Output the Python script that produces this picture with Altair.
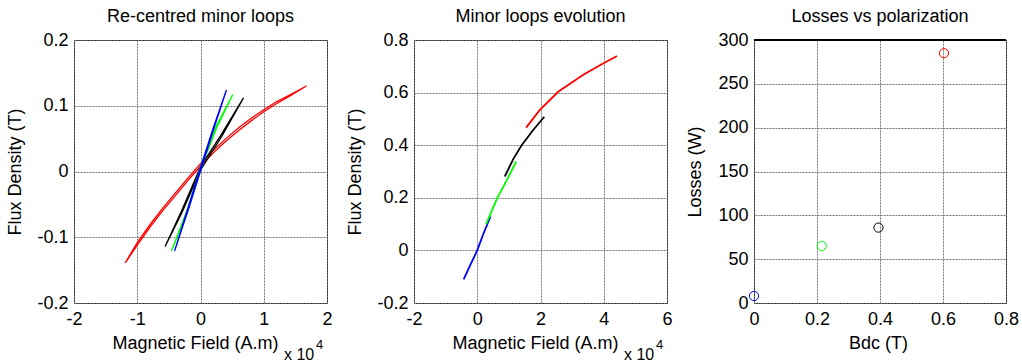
import altair as alt
import pandas as pd

FONT = "Liberation Sans"
curve_names = ["blue", "green", "black", "red"]
curve_colors = ["#0000ff", "#00ff00", "#000000", "#ff0000"]

# ---------- Panel 1: re-centred minor loops (H in x10^4 A/m, B in T) ----------
rc_blue_h = [-0.41, -0.2, 0.0, 0.2, 0.41]
rc_blue_rise = [-0.121, -0.060, 0.001, 0.062, 0.124]
rc_blue_fall = [-0.121, -0.056, 0.006, 0.066, 0.124]

rc_green_h = [-0.46, -0.2, 0.03, 0.25, 0.51]
rc_green_rise = [-0.121, -0.060, 0.011, 0.065, 0.117]
rc_green_fall = [-0.121, -0.056, 0.016, 0.069, 0.117]

rc_black_h = [-0.56, -0.3, 0.0, 0.34, 0.68]
rc_black_rise = [-0.114, -0.064, 0.002, 0.054, 0.112]
rc_black_fall = [-0.114, -0.060, 0.007, 0.058, 0.112]

rc_red_h = [-1.19, -1.0, -0.8, -0.6, -0.4, -0.2, 0.0, 0.2, 0.4, 0.6, 0.8, 1.0, 1.2, 1.4, 1.675]
rc_red_rise = [-0.139, -0.112, -0.085, -0.060, -0.037, -0.014, 0.008, 0.028, 0.046, 0.062, 0.077, 0.091, 0.103, 0.114, 0.130]
rc_red_fall = [-0.139, -0.108, -0.081, -0.056, -0.033, -0.010, 0.012, 0.032, 0.050, 0.066, 0.081, 0.094, 0.106, 0.116, 0.130]

# ---------- Panel 2: minor loops evolution ----------
ev_blue_h = [-0.43, -0.2, 0.0, 0.2, 0.42]
ev_blue_b = [-0.11, -0.05, 0.0, 0.065, 0.129]
ev_green_h = [0.28, 0.63, 0.95, 1.23]
ev_green_b = [0.10, 0.199, 0.27, 0.338]
ev_black_h = [0.87, 1.15, 1.41, 1.75, 2.12]
ev_black_b = [0.281, 0.35, 0.401, 0.455, 0.508]
ev_red_h = [1.545, 1.98, 2.56, 3.34, 3.92, 4.42]
ev_red_b = [0.467, 0.534, 0.603, 0.667, 0.707, 0.739]

# ---------- Panel 3: losses vs polarization ----------
bdc = [0.0, 0.215, 0.395, 0.603]
losses = [8, 65, 86, 285]

# ---------- build tables ----------
def loop_rows(name, h, rise, fall):
    rows = []
    i = 0
    for x, y in zip(h, rise):
        rows.append({"H": x, "B": y, "curve": name, "idx": i}); i += 1
    for x, y in zip(reversed(h), reversed(fall)):
        rows.append({"H": x, "B": y, "curve": name, "idx": i}); i += 1
    return rows

def line_rows(name, h, b):
    return [{"H": x, "B": y, "curve": name, "idx": i} for i, (x, y) in enumerate(zip(h, b))]

p1 = pd.DataFrame(
    loop_rows("red", rc_red_h, rc_red_rise, rc_red_fall)
    + loop_rows("black", rc_black_h, rc_black_rise, rc_black_fall)
    + loop_rows("green", rc_green_h, rc_green_rise, rc_green_fall)
    + loop_rows("blue", rc_blue_h, rc_blue_rise, rc_blue_fall)
)
p2 = pd.DataFrame(
    line_rows("blue", ev_blue_h, ev_blue_b)
    + line_rows("green", ev_green_h, ev_green_b)
    + line_rows("black", ev_black_h, ev_black_b)
    + line_rows("red", ev_red_h, ev_red_b)
)
p3 = pd.DataFrame({"Bdc": bdc, "Losses": losses, "curve": curve_names})

color = alt.Color("curve:N", scale=alt.Scale(domain=curve_names, range=curve_colors), legend=None)
LBL = "datum.value < 0 ? '-' + format(-datum.value, '') : format(datum.value, '')"

W, H = 253, 263


def xaxis(title, values, title_x):
    return alt.Axis(title=title, values=values, labelExpr=LBL, grid=True, ticks=False,
                    domain=False, labelPadding=7, labelFlush=False,
                    titleX=title_x, titleY=31)


def yaxis(title, values):
    return alt.Axis(title=title, values=values, labelExpr=LBL, grid=True, ticks=False,
                    domain=False, labelPadding=6, labelFlush=False,
                    titleX=-50, titleY=H / 2)


def exp_note():
    a = alt.Chart(pd.DataFrame({"t": ["x 10"]})).mark_text(
        align="left", baseline="alphabetic", fontSize=16, font=FONT, color="#000"
    ).encode(x=alt.value(210), y=alt.value(320), text="t:N")
    b = alt.Chart(pd.DataFrame({"t": ["4"]})).mark_text(
        align="left", baseline="alphabetic", fontSize=13, font=FONT, color="#000"
    ).encode(x=alt.value(242), y=alt.value(309), text="t:N")
    return a + b


def title(t):
    return alt.TitleParams(t, fontSize=18, fontWeight="normal", font=FONT, offset=5, color="#000")


c1 = alt.Chart(p1).mark_line(strokeWidth=1.3, clip=True).encode(
    x=alt.X("H:Q", scale=alt.Scale(domain=[-2, 2], nice=False, zero=False),
            axis=xaxis("Magnetic Field (A.m)", [-2, -1, 0, 1, 2], 121)),
    y=alt.Y("B:Q", scale=alt.Scale(domain=[-0.2, 0.2], nice=False, zero=False),
            axis=yaxis("Flux Density (T)", [-0.2, -0.1, 0, 0.1, 0.2])),
    color=color,
    detail="curve:N",
    order="idx:Q",
)
panel1 = (c1 + exp_note()).properties(width=W, height=H, title=title("Re-centred minor loops"))

c2 = alt.Chart(p2).mark_line(strokeWidth=1.8, clip=True).encode(
    x=alt.X("H:Q", scale=alt.Scale(domain=[-2, 6], nice=False, zero=False),
            axis=xaxis("Magnetic Field (A.m)", [-2, 0, 2, 4, 6], 121)),
    y=alt.Y("B:Q", scale=alt.Scale(domain=[-0.2, 0.8], nice=False, zero=False),
            axis=yaxis("Flux Density (T)", [-0.2, 0, 0.2, 0.4, 0.6, 0.8])),
    color=color,
    detail="curve:N",
    order="idx:Q",
)
panel2 = (c2 + exp_note()).properties(width=W, height=H, title=title("Minor loops evolution"))

c3 = alt.Chart(p3).mark_point(shape="circle", filled=False, size=85, strokeWidth=1, opacity=1).encode(
    x=alt.X("Bdc:Q", scale=alt.Scale(domain=[0, 0.8], nice=False, zero=False),
            axis=xaxis("Bdc (T)", [0, 0.2, 0.4, 0.6, 0.8], 124)),
    y=alt.Y("Losses:Q", scale=alt.Scale(domain=[0, 300], nice=False, zero=False),
            axis=yaxis("Losses (W)", [0, 50, 100, 150, 200, 250, 300])),
    color=color,
)
top_edge = alt.Chart(pd.DataFrame({"v": [300]})).mark_rule(color="#000", strokeWidth=2).encode(
    y=alt.Y("v:Q")
)
panel3 = (top_edge + c3).properties(width=252, height=H, title=title("Losses vs polarization"))

chart = alt.hconcat(panel1, panel2, panel3, spacing=87, bounds="flush").configure_view(
    stroke="#000", strokeWidth=1
).configure_axis(
    labelFont=FONT, titleFont=FONT, labelFontSize=18, titleFontSize=18,
    labelColor="#000", titleColor="#000", titleFontWeight="normal",
    gridColor="#777", gridDash=[2, 1], gridWidth=1,
).properties(padding={"left": 5, "top": 7, "right": 0, "bottom": 0}, background="#ffffff")

chart.save("out.html", embed_options={"renderer": "svg", "actions": False})
